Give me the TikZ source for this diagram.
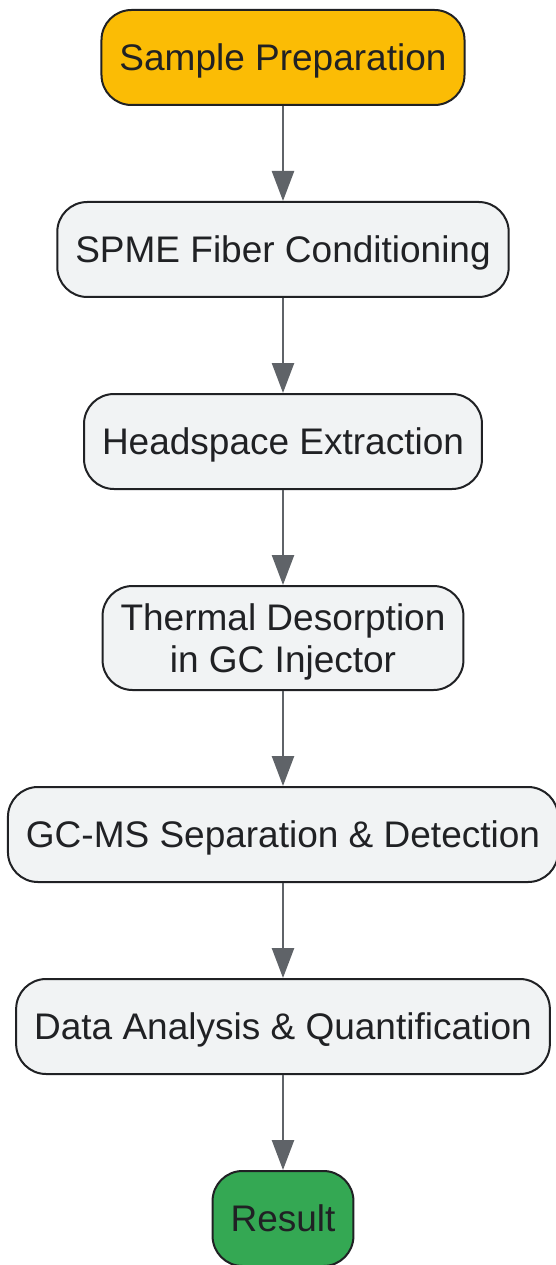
\documentclass[tikz,border=0pt]{standalone}
\usepackage{fontspec}
\setmainfont{Liberation Sans}
\usetikzlibrary{positioning, arrows.meta}
\definecolor{stepfill}{HTML}{F1F3F4}
\definecolor{startfill}{HTML}{FBBC05}
\definecolor{endfill}{HTML}{34A853}
\definecolor{edgegray}{HTML}{5F6368}
\definecolor{inkdark}{HTML}{202124}

\begin{document}
\begin{tikzpicture}[
     node distance = 95pt and 0pt,
              >= {Triangle[length=30pt, width=22pt]},
       flow/.style = {rectangle, rounded corners=30pt, draw=inkdark, line width=2pt,
                      fill=stepfill, text=inkdark, font=\fontsize{37}{42}\selectfont,
                      align=center, inner xsep=18pt, minimum height=95pt, text depth=0pt},
      start/.style = {flow, fill=startfill},
     finish/.style = {flow, fill=endfill},
       link/.style = {->, draw=edgegray, line width=2.5pt}
                        ]
\useasboundingbox (-283pt,57.5pt) rectangle (272pt,-1207.5pt);
\node (prep)  [start] {Sample Preparation};
\node (cond)  [flow, below =of prep] {SPME Fiber Conditioning};
\node (extr)  [flow, below =of cond] {Headspace Extraction};
\node (desorb)[flow, below =of extr, minimum height=104pt] {Thermal Desorption\\in GC Injector};
\node (gcms)  [flow, below =of desorb] {GC-MS Separation \& Detection};
\node (data)  [flow, below =of gcms] {Data Analysis \& Quantification};
\node (res)   [finish, below =of data] {Result};
\draw[link] (prep) to (cond);
\draw[link] (cond) to (extr);
\draw[link] (extr) to (desorb);
\draw[link] (desorb) to (gcms);
\draw[link] (gcms) to (data);
\draw[link] (data) to (res);
\end{tikzpicture}
\end{document}
